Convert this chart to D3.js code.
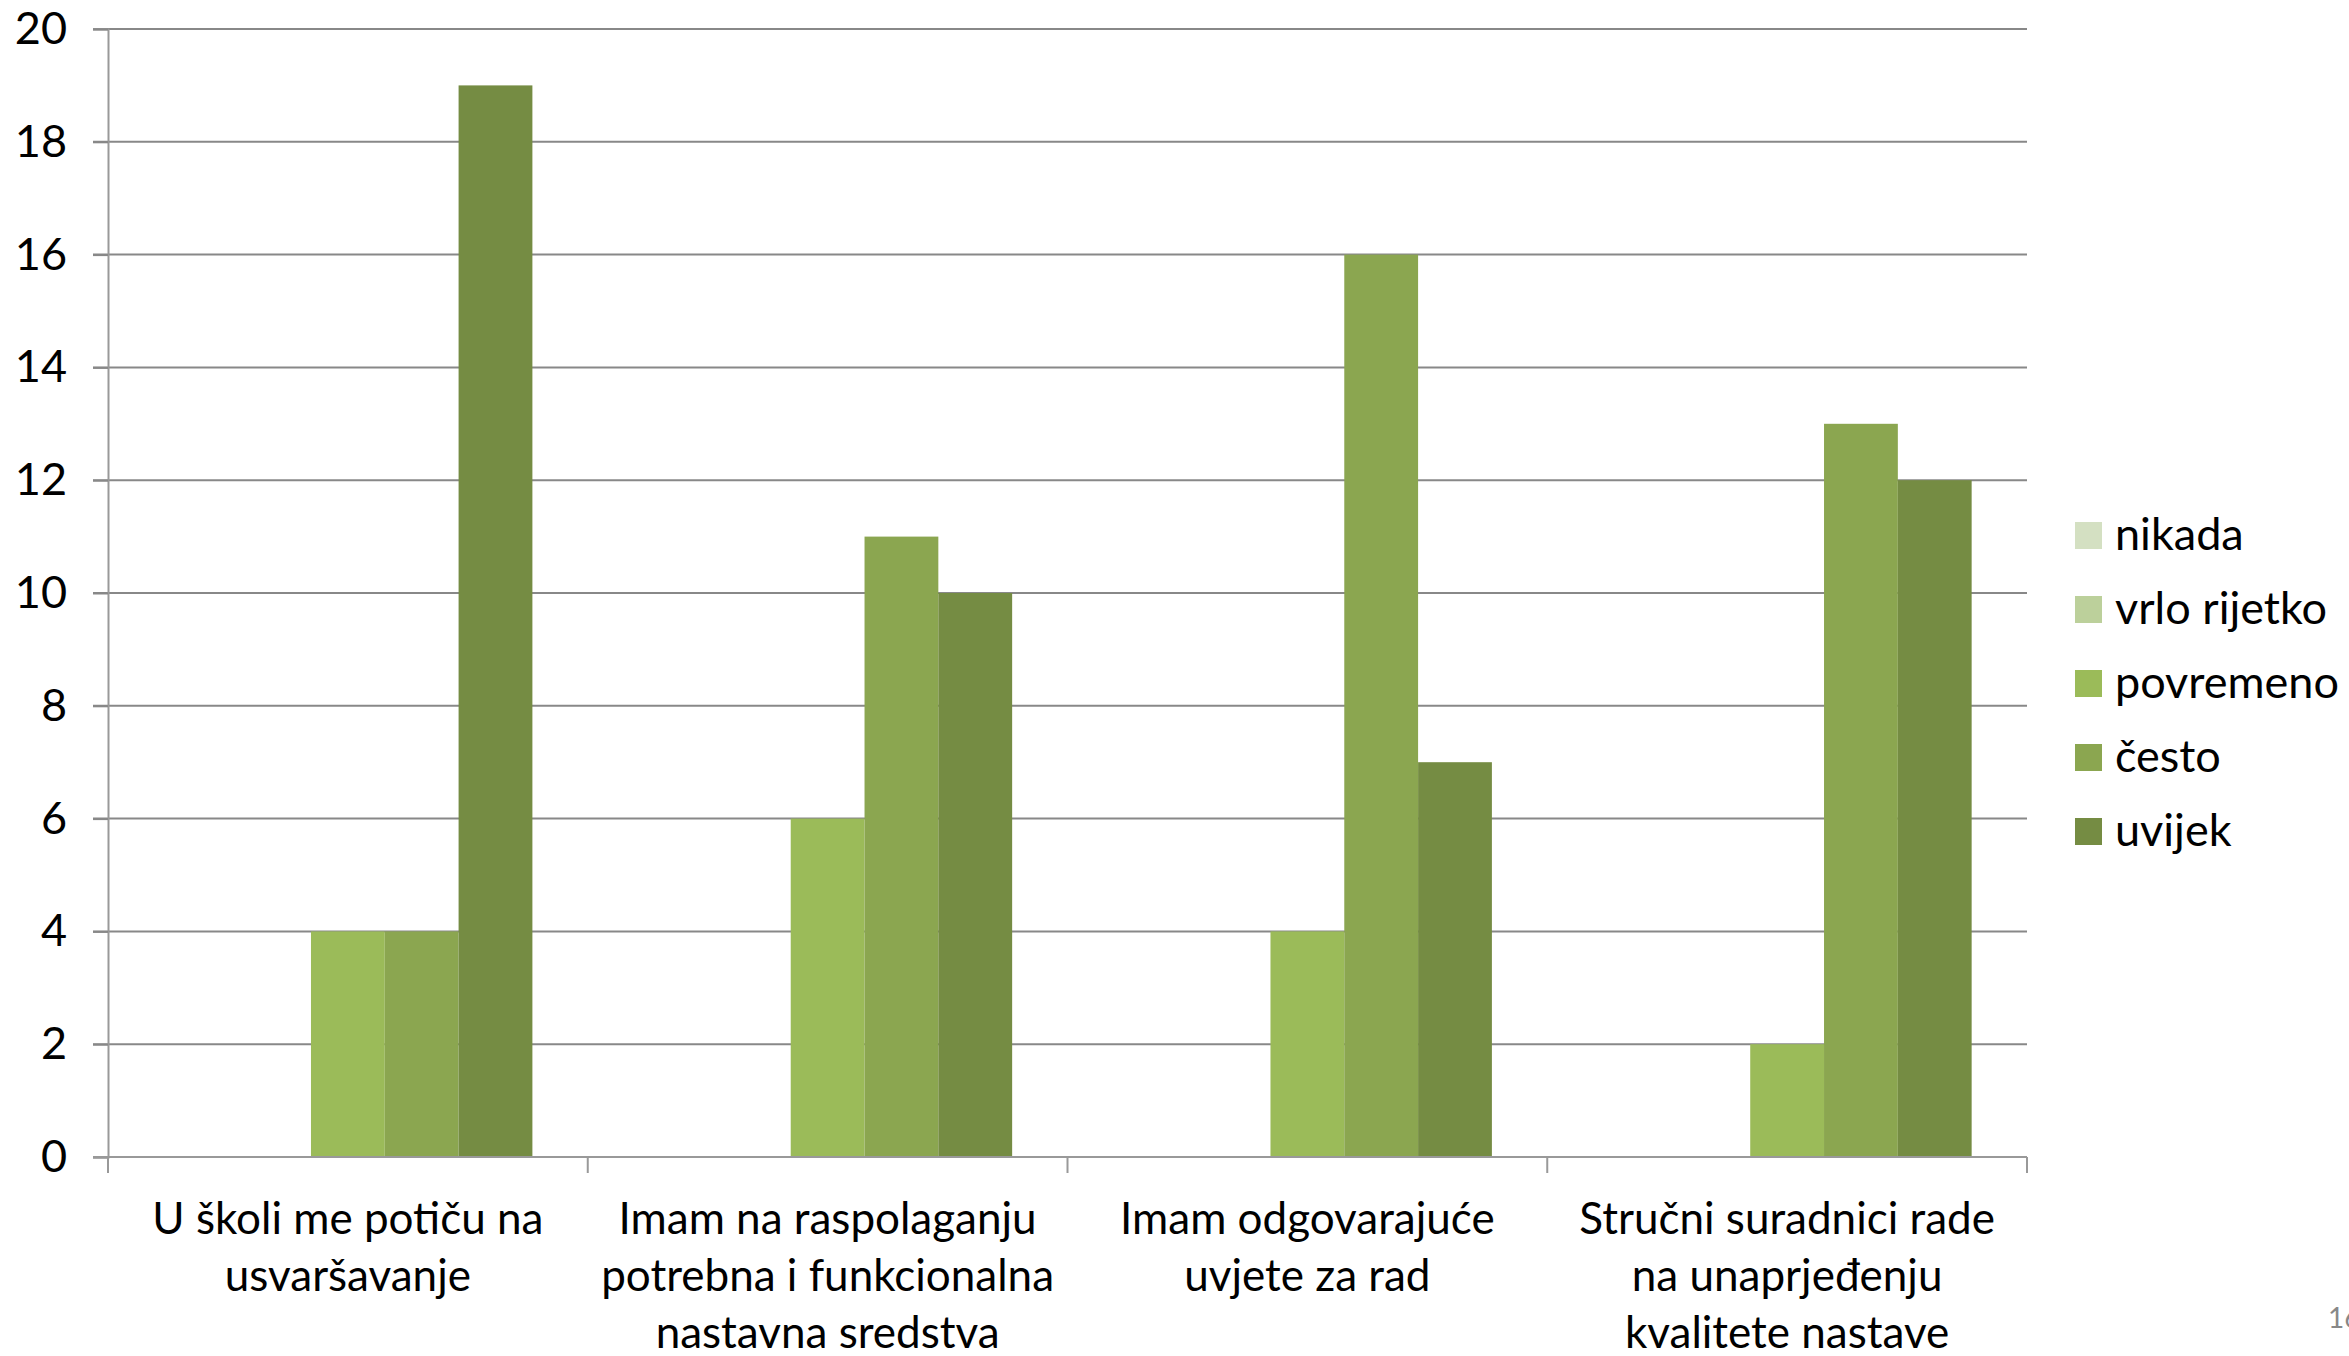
<!DOCTYPE html>
<html>
<head>
<meta charset="utf-8">
<script src="https://cdn.jsdelivr.net/npm/d3@7"></script>
<style>
  html, body { margin: 0; padding: 0; background: #fff; overflow: hidden; }
  svg { display: block; font-family: Lato, "Open Sans", sans-serif; }
</style>
</head>
<body>
<svg id="chart" width="2349" height="1356"></svg>
<script>
const categories = [
  ["U školi me potiču na", "usvaršavanje"],
  ["Imam na raspolaganju", "potrebna i funkcionalna", "nastavna sredstva"],
  ["Imam odgovarajuće", "uvjete za rad"],
  ["Stručni suradnici rade", "na unaprjeđenju", "kvalitete nastave"]
];
const seriesNames = ["nikada", "vrlo rijetko", "povremeno", "često", "uvijek"];
const nikada      = [0, 0, 0, 0];
const vrloRijetko = [0, 0, 0, 0];
const povremeno   = [4, 6, 4, 2];
const cesto       = [4, 11, 16, 13];
const uvijek      = [19, 10, 7, 12];
const seriesValues = [nikada, vrloRijetko, povremeno, cesto, uvijek];
const seriesColors = ["#D4E0C2", "#BCD09B", "#9BBB59", "#8BA650", "#758C43"];
const yTicks = [0, 2, 4, 6, 8, 10, 12, 14, 16, 18, 20];
const pageNumber = "16";

(function () {
const svg = d3.select("#chart");
const pLeft = 108, pRight = 2027, pTop = 29, pBottom = 1157;

const x = d3.scaleBand().domain(d3.range(categories.length)).range([pLeft, pRight]).padding(0);
const xs = d3.scaleBand().domain(d3.range(seriesNames.length)).range([0, x.bandwidth()])
  .paddingInner(0).paddingOuter(0.75);
const y = d3.scaleLinear().domain([0, 20]).range([pBottom, pTop]);

// gridlines
svg.append("g").selectAll("line").data(yTicks.filter(t => t > 0)).join("line")
  .attr("x1", pLeft - 15).attr("x2", pRight)
  .attr("y1", d => y(d)).attr("y2", d => y(d))
  .attr("stroke", "#888888").attr("stroke-width", 2);

// bars
const groups = svg.append("g").selectAll("g").data(categories).join("g")
  .attr("transform", (d, i) => `translate(${x(i)},0)`);
groups.selectAll("rect").data((d, i) => seriesValues.map((s, j) => ({ j, v: s[i] }))).join("rect")
  .attr("x", d => xs(d.j)).attr("width", xs.bandwidth())
  .attr("y", d => y(d.v)).attr("height", d => y(0) - y(d.v))
  .attr("fill", d => seriesColors[d.j]);

// y axis
const yAxis = svg.append("g").attr("transform", `translate(${pLeft},0)`)
  .call(d3.axisLeft(y).tickValues(yTicks).tickSize(15).tickPadding(26).tickFormat(d3.format("d")));
yAxis.select(".domain").attr("stroke", "#999999").attr("stroke-width", 2);
yAxis.selectAll(".tick line").attr("stroke", "#888888").attr("stroke-width", 2);
yAxis.selectAll(".tick text").attr("font-size", 45).attr("fill", "#000")
  .attr("font-family", "Lato, sans-serif");

// x axis line
svg.append("line").attr("x1", pLeft - 15).attr("x2", pRight).attr("y1", y(0)).attr("y2", y(0))
  .attr("stroke", "#999999").attr("stroke-width", 2);
// category boundary ticks
svg.append("g").selectAll("line").data(d3.range(categories.length + 1)).join("line")
  .attr("x1", i => pLeft + i * x.step()).attr("x2", i => pLeft + i * x.step())
  .attr("y1", y(0)).attr("y2", y(0) + 16)
  .attr("stroke", "#999999").attr("stroke-width", 2);

// category labels
const labels = svg.append("g").selectAll("text").data(categories).join("text")
  .attr("text-anchor", "middle").attr("font-size", 44).attr("fill", "#000");
labels.selectAll("tspan").data((d, i) => d.map(l => ({ l, i }))).join("tspan")
  .attr("x", d => x(d.i) + x.bandwidth() / 2)
  .attr("y", (d, k) => 1234 + k * 57)
  .text(d => d.l);

// legend
const legend = svg.append("g").selectAll("g").data(seriesNames).join("g")
  .attr("transform", (d, i) => `translate(2075,${522 + i * 74})`);
legend.append("rect").attr("width", 27).attr("height", 27).attr("fill", (d, i) => seriesColors[i]);
legend.append("text").attr("x", 40).attr("y", 28).attr("font-size", 45).attr("fill", "#000").text(d => d);

// page number
svg.append("text").attr("x", 2328).attr("y", 1328).attr("font-size", 28).attr("fill", "#888888").text(pageNumber);
})();
</script>
</body>
</html>
